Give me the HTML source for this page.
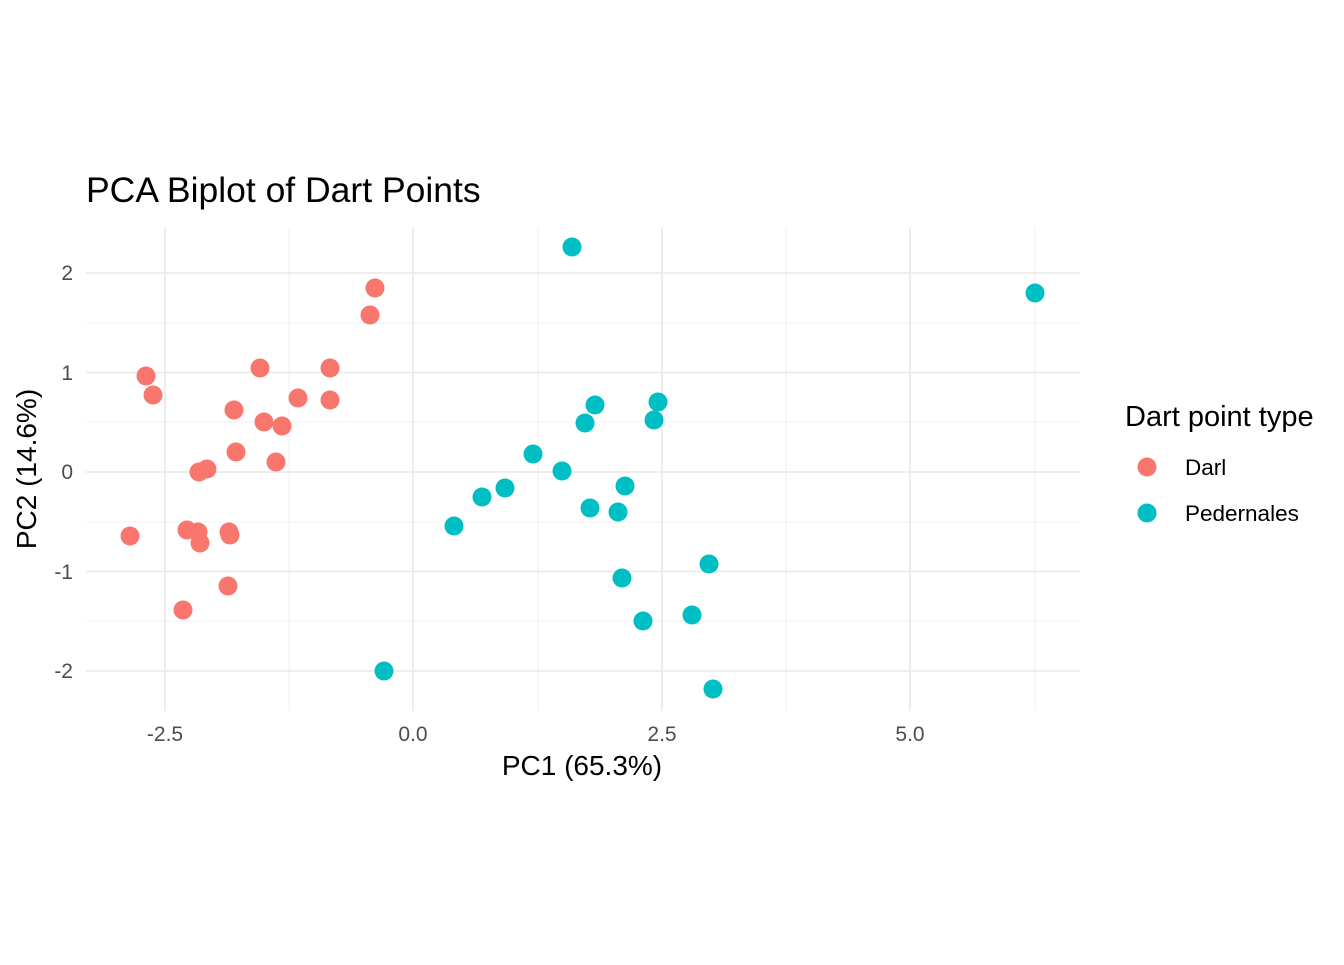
<!DOCTYPE html>
<html><head><meta charset="utf-8"><style>html,body{margin:0;padding:0;background:#fff}</style></head>
<body>
<svg width="1344" height="960" xmlns="http://www.w3.org/2000/svg" font-family="Liberation Sans, sans-serif">
<rect width="1344" height="960" fill="#fff"/>
<g stroke="#ebebeb" stroke-width="0.8">
<line x1="289" y1="227" x2="289" y2="711"/><line x1="538" y1="227" x2="538" y2="711"/><line x1="786" y1="227" x2="786" y2="711"/><line x1="1035" y1="227" x2="1035" y2="711"/>
<line x1="86" y1="323" x2="1080" y2="323"/><line x1="86" y1="422" x2="1080" y2="422"/><line x1="86" y1="522" x2="1080" y2="522"/><line x1="86" y1="621" x2="1080" y2="621"/>
</g>
<g stroke="#ebebeb" stroke-width="1.8">
<line x1="165" y1="227" x2="165" y2="711"/><line x1="413" y1="227" x2="413" y2="711"/><line x1="662" y1="227" x2="662" y2="711"/><line x1="910" y1="227" x2="910" y2="711"/>
<line x1="86" y1="273" x2="1080" y2="273"/><line x1="86" y1="372.5" x2="1080" y2="372.5"/><line x1="86" y1="472" x2="1080" y2="472"/><line x1="86" y1="571.5" x2="1080" y2="571.5"/><line x1="86" y1="671" x2="1080" y2="671"/>
</g>
<g fill="#4d4d4d" font-size="21" text-anchor="end">
<text x="73" y="280">2</text><text x="73" y="380">1</text><text x="73" y="479">0</text><text x="73" y="579">-1</text><text x="73" y="678">-2</text>
</g>
<g fill="#4d4d4d" font-size="21" text-anchor="middle">
<text x="165" y="741">-2.5</text><text x="413" y="741">0.0</text><text x="662" y="741">2.5</text><text x="910" y="741">5.0</text>
</g>
<text x="582" y="775" font-size="28" text-anchor="middle">PC1 (65.3%)</text>
<text transform="translate(36,469) rotate(-90)" font-size="28" text-anchor="middle">PC2 (14.6%)</text>
<text x="86" y="202" font-size="35.5">PCA Biplot of Dart Points</text>
<g fill="#F8766D">
<circle cx="375" cy="288" r="9.5"/><circle cx="370" cy="315" r="9.5"/><circle cx="260" cy="368" r="9.5"/><circle cx="330" cy="368" r="9.5"/><circle cx="146" cy="376" r="9.5"/><circle cx="153" cy="395" r="9.5"/><circle cx="298" cy="398" r="9.5"/><circle cx="330" cy="400" r="9.5"/><circle cx="234" cy="410" r="9.5"/><circle cx="264" cy="422" r="9.5"/><circle cx="282" cy="426" r="9.5"/><circle cx="236" cy="452" r="9.5"/><circle cx="276" cy="462" r="9.5"/><circle cx="207" cy="469" r="9.5"/><circle cx="199" cy="472" r="9.5"/><circle cx="130" cy="536" r="9.5"/><circle cx="187" cy="530" r="9.5"/><circle cx="198" cy="532" r="9.5"/><circle cx="229" cy="532" r="9.5"/><circle cx="200" cy="543" r="9.5"/><circle cx="230" cy="535" r="9.5"/><circle cx="228" cy="586" r="9.5"/><circle cx="183" cy="610" r="9.5"/>
<circle cx="1147" cy="467" r="9.5"/>
</g>
<g fill="#00BFC4">
<circle cx="572" cy="247" r="9.5"/><circle cx="1035" cy="293" r="9.5"/><circle cx="595" cy="405" r="9.5"/><circle cx="658" cy="402" r="9.5"/><circle cx="654" cy="420" r="9.5"/><circle cx="585" cy="423" r="9.5"/><circle cx="533" cy="454" r="9.5"/><circle cx="562" cy="471" r="9.5"/><circle cx="625" cy="486" r="9.5"/><circle cx="505" cy="488" r="9.5"/><circle cx="482" cy="497" r="9.5"/><circle cx="590" cy="508" r="9.5"/><circle cx="618" cy="512" r="9.5"/><circle cx="454" cy="526" r="9.5"/><circle cx="709" cy="564" r="9.5"/><circle cx="622" cy="578" r="9.5"/><circle cx="692" cy="615" r="9.5"/><circle cx="643" cy="621" r="9.5"/><circle cx="384" cy="671" r="9.5"/><circle cx="713" cy="689" r="9.5"/>
<circle cx="1147" cy="513" r="9.5"/>
</g>
<text x="1125" y="426" font-size="29">Dart point type</text>
<text x="1185" y="475" font-size="22.5">Darl</text>
<text x="1185" y="521" font-size="22.5">Pedernales</text>
</svg>
</body></html>
